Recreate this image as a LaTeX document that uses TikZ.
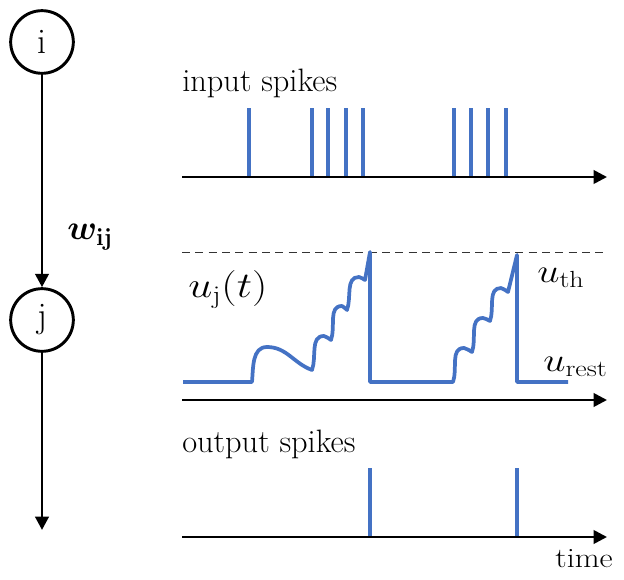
\RequirePackage{fix-cm}
\documentclass[tikz,border=0pt]{standalone}
\usepackage{amsmath}
\usepackage{bm}
\usepackage{tikz}
\usetikzlibrary{arrows.meta}
\definecolor{spikeblue}{HTML}{4472C4}

\begin{document}
\begin{tikzpicture}[
        x=0.75pt, y=-0.75pt,
        neuron/.style = {draw, circle, line width=2.2pt, minimum size=47pt, inner sep=0pt, font=\fontsize{27}{30}\selectfont},
        arrow/.style = {-{Triangle[length=10pt, width=10pt]}, line width=2.2pt},
        axis/.style = {-{Triangle[length=10pt, width=10pt]}, line width=2pt},
        spike/.style = {spikeblue, line width=2.8pt},
        label/.style = {font=\fontsize{24.3}{28}\selectfont, inner sep=0pt},
        mlabel/.style = {font=\fontsize{25}{30}\selectfont, inner sep=0pt},
    ]
        \useasboundingbox (0,0) rectangle (624,580);

        % neurons
        \node[neuron] (i) at (42,42) {i};
        \node[neuron] (j) at (42,320) {j};
        \coordinate (out) at (42,530);
        \draw[arrow] (i) -- (j);
        \draw[arrow] (j) -- (out);
        \node[font=\fontsize{26}{32}\selectfont, inner sep=0pt, anchor=base west] (w) at (67,240) {$\bm{w}_{\mathbf{ij}}$};

        % input spikes
        \node[label, anchor=base west] (inlab) at (182,92) {input spikes};
        \coordinate (in0) at (182,177);
        \coordinate (in1) at (607,177);
        \foreach \x in {249,312,328,346,363,454,471,488,506}
            \draw[spike] (\x,176) -- (\x,108);
        \draw[axis] (in0) -- (in1);

        % membrane potential
        \coordinate (mp0) at (182,400);
        \coordinate (mp1) at (607,400);
        \draw[black!80, line width=0.7pt, dash pattern=on 6pt off 4pt] (182,252) -- (607,252);
        \draw[spike, line join=round]
            (183,382) -- (252,382) to[out=85,in=180] (267,347) to[out=0,in=160] (312,370)
            to[out=70,in=180] (324,336) to[out=0,in=165] (331,340)
            to[out=70,in=180] (342,306) to[out=0,in=165] (347,310)
            to[out=70,in=180] (359,277) to[out=0,in=165] (365,280)
            -- (370,252) -- (370,382) -- (453,382)
            to[out=70,in=180] (464,348) to[out=0,in=165] (472,352)
            to[out=70,in=180] (483,318) to[out=0,in=165] (490,321)
            to[out=70,in=180] (501,288) to[out=0,in=165] (508,292)
            -- (517,255) -- (517,382) -- (568,382);
        \draw[axis] (mp0) -- (mp1);
        \node[font=\fontsize{27}{33}\selectfont, inner sep=0pt, anchor=base west] (uj) at (188,298) {\scalebox{1.2}[1]{$u_{\mathrm{j}}(t)$}};
        \node[mlabel, anchor=base west] (uth) at (537,283) {\scalebox{1.2}[1]{$u_{\mathrm{th}}$}};
        \node[mlabel, anchor=base west] (urest) at (543,372) {\scalebox{1.2}[1]{$u_{\mathrm{rest}}$}};

        % output spikes
        \node[label, anchor=base west] (outlab) at (182,452) {output spikes};
        \coordinate (os0) at (182,537);
        \coordinate (os1) at (607,537);
        \foreach \x in {370,517}
            \draw[spike] (\x,536) -- (\x,468);
        \draw[axis] (os0) -- (os1);
        \node[font=\fontsize{21}{26}\selectfont, inner sep=0pt, anchor=base east] (time) at (613,567) {\scalebox{1.15}[1]{time}};
    \end{tikzpicture}
\end{document}
